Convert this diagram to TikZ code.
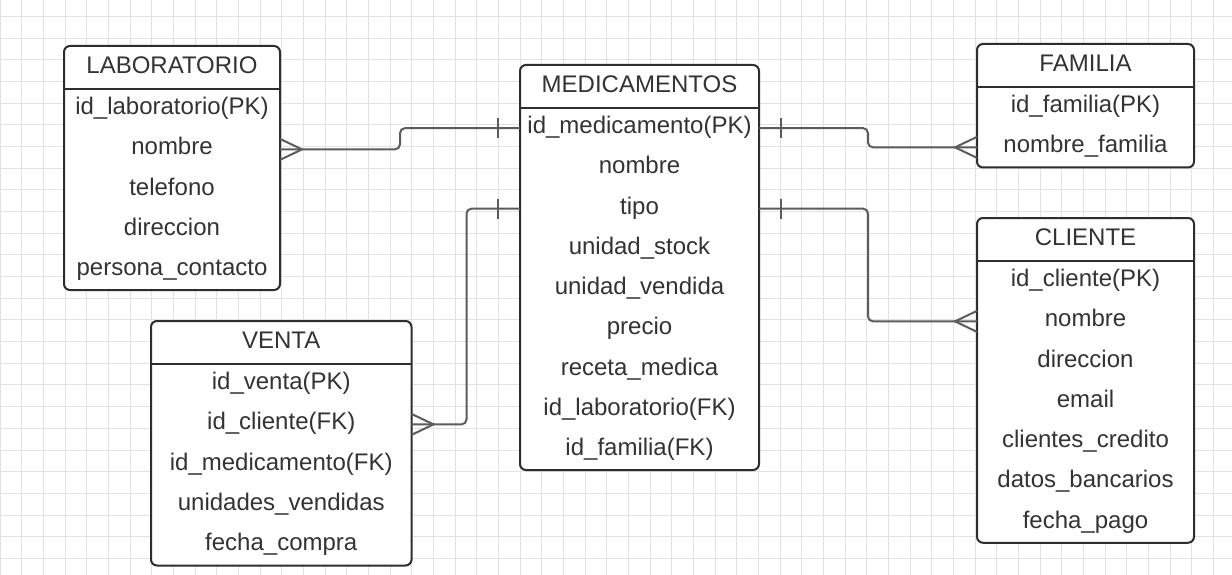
\documentclass[tikz,border=0pt]{standalone}
\usepackage{fontspec}
\setmainfont{Liberation Sans}
\definecolor{boxc}{HTML}{2E2E2E}
\definecolor{txtc}{HTML}{333333}
\definecolor{connc}{HTML}{5C5C5C}
\definecolor{gridc}{HTML}{E2E2E2}
\begin{document}
\begin{tikzpicture}[x=1pt,y=-1pt,
  box/.style={draw=boxc, line width=2pt, fill=white, rounded corners=6pt, inner sep=0pt, outer sep=0pt, anchor=north west},
  cell/.style={text=txtc, font=\fontsize{24}{28}\selectfont, inner sep=0pt, outer sep=0pt, text height=17pt, text depth=5.8pt, anchor=north},
  ttl/.style={cell, minimum height=43pt},
  row/.style={cell, minimum height=40.25pt},
  sep/.style={draw=boxc, line width=2pt},
  conn/.style={draw=connc, line width=2pt, rounded corners=5pt},
  crow/.style={draw=connc, line width=2pt, sharp corners},
]
\useasboundingbox (0,0) rectangle (1232,575);
\fill[white] (0,0) rectangle (1232,575);
% grid
\foreach \i in {0,...,56} \draw[gridc, line width=1pt] ({\i*21.67},0) -- ({\i*21.67},575);
\foreach \j in {0,...,26} \draw[gridc, line width=1pt] (0,{16.6+\j*21.67}) -- (1232,{16.6+\j*21.67});

% LABORATORIO
\node[box, minimum width=216pt, minimum height=244pt] (lab) at (64,46) {};
\node[ttl, minimum width=216pt] (labt) at (lab.north) {LABORATORIO};
\draw[sep] (labt.south west) -- (labt.south east);
\node[row, minimum width=216pt] (lab1) at (labt.south) {id\_laboratorio(PK)};
\node[row, minimum width=216pt] (lab2) at (lab1.south) {nombre};
\node[row, minimum width=216pt] (lab3) at (lab2.south) {telefono};
\node[row, minimum width=216pt] (lab4) at (lab3.south) {direccion};
\node[row, minimum width=216pt] (lab5) at (lab4.south) {persona\_contacto};

% MEDICAMENTOS
\node[box, minimum width=239pt, minimum height=405pt] (med) at (520,65) {};
\node[ttl, minimum width=239pt] (medt) at (med.north) {MEDICAMENTOS};
\draw[sep] (medt.south west) -- (medt.south east);
\node[row, minimum width=239pt] (med1) at (medt.south) {id\_medicamento(PK)};
\node[row, minimum width=239pt] (med2) at (med1.south) {nombre};
\node[row, minimum width=239pt] (med3) at (med2.south) {tipo};
\node[row, minimum width=239pt] (med4) at (med3.south) {unidad\_stock};
\node[row, minimum width=239pt] (med5) at (med4.south) {unidad\_vendida};
\node[row, minimum width=239pt] (med6) at (med5.south) {precio};
\node[row, minimum width=239pt] (med7) at (med6.south) {receta\_medica};
\node[row, minimum width=239pt] (med8) at (med7.south) {id\_laboratorio(FK)};
\node[row, minimum width=239pt] (med9) at (med8.south) {id\_familia(FK)};

% FAMILIA
\node[box, minimum width=217pt, minimum height=123.5pt] (fam) at (977,44) {};
\node[ttl, minimum width=217pt] (famt) at (fam.north) {FAMILIA};
\draw[sep] (famt.south west) -- (famt.south east);
\node[row, minimum width=217pt] (fam1) at (famt.south) {id\_familia(PK)};
\node[row, minimum width=217pt] (fam2) at (fam1.south) {nombre\_familia};

% CLIENTE
\node[box, minimum width=217pt, minimum height=324.75pt] (cli) at (977,218) {};
\node[ttl, minimum width=217pt] (clit) at (cli.north) {CLIENTE};
\draw[sep] (clit.south west) -- (clit.south east);
\node[row, minimum width=217pt] (cli1) at (clit.south) {id\_cliente(PK)};
\node[row, minimum width=217pt] (cli2) at (cli1.south) {nombre};
\node[row, minimum width=217pt] (cli3) at (cli2.south) {direccion};
\node[row, minimum width=217pt] (cli4) at (cli3.south) {email};
\node[row, minimum width=217pt] (cli5) at (cli4.south) {clientes\_credito};
\node[row, minimum width=217pt] (cli6) at (cli5.south) {datos\_bancarios};
\node[row, minimum width=217pt] (cli7) at (cli6.south) {fecha\_pago};

% VENTA
\node[box, minimum width=260.5pt, minimum height=244.5pt] (ven) at (151,321) {};
\node[ttl, minimum width=260.5pt] (vent) at (ven.north) {VENTA};
\draw[sep] (vent.south west) -- (vent.south east);
\node[row, minimum width=260.5pt] (ven1) at (vent.south) {id\_venta(PK)};
\node[row, minimum width=260.5pt] (ven2) at (ven1.south) {id\_cliente(FK)};
\node[row, minimum width=260.5pt] (ven3) at (ven2.south) {id\_medicamento(FK)};
\node[row, minimum width=260.5pt] (ven4) at (ven3.south) {unidades\_vendidas};
\node[row, minimum width=260.5pt] (ven5) at (ven4.south) {fecha\_compra};

% connector routing columns
\coordinate (cLM) at (400,0);
\coordinate (cMV) at (466.5,0);
\coordinate (cMR) at (868,0);

% LAB -- MED
\draw[conn] (med1.west) -- (cLM |- med1.west) -- (cLM |- lab2.east) -- (lab2.east);
\draw[crow] ([yshift=10pt]med1.west) ++(-22,0) -- ++(0,20);
\draw[crow] ([yshift=10.5pt]lab2.east) -- ([xshift=22pt]lab2.east) -- ([yshift=-10.5pt]lab2.east);

% MED -- FAMILIA
\draw[conn] (med1.east) -- (cMR |- med1.east) -- (cMR |- fam2.west) -- (fam2.west);
\draw[crow] ([yshift=10pt]med1.east) ++(22,0) -- ++(0,20);
\draw[crow] ([yshift=10.5pt]fam2.west) -- ([xshift=-22pt]fam2.west) -- ([yshift=-10.5pt]fam2.west);

% MED -- CLIENTE
\draw[conn] (med3.east) -- (cMR |- med3.east) -- (cMR |- cli2.west) -- (cli2.west);
\draw[crow] ([yshift=10pt]med3.east) ++(22,0) -- ++(0,20);
\draw[crow] ([yshift=10.5pt]cli2.west) -- ([xshift=-22pt]cli2.west) -- ([yshift=-10.5pt]cli2.west);

% MED -- VENTA
\draw[conn] (med3.west) -- (cMV |- med3.west) -- (cMV |- ven2.east) -- (ven2.east);
\draw[crow] ([yshift=10pt]med3.west) ++(-22,0) -- ++(0,20);
\draw[crow] ([yshift=10.5pt]ven2.east) -- ([xshift=22pt]ven2.east) -- ([yshift=-10.5pt]ven2.east);
\end{tikzpicture}
\end{document}
